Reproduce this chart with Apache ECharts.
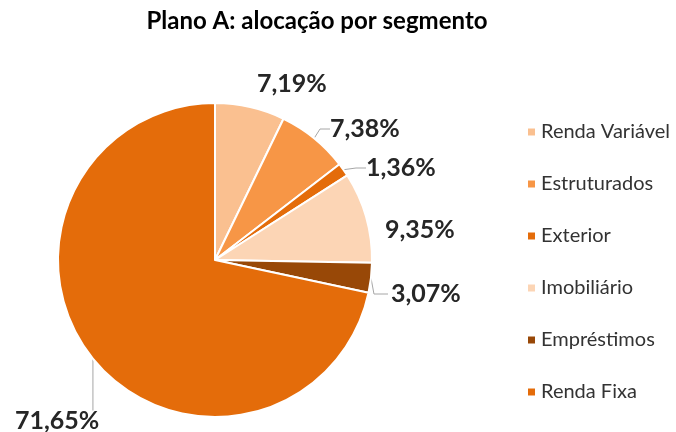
<!DOCTYPE html>
<html>
<head>
<meta charset="utf-8">
<script src="https://cdn.jsdelivr.net/npm/echarts@6/dist/echarts.min.js"></script>
<style>
  html, body { margin: 0; padding: 0; background: #fff; }
  #chart { width: 676px; height: 432px; }
</style>
</head>
<body>
<div id="chart"></div>
<script>
// dados do gráfico
var categorias = ['Renda Variável', 'Estruturados', 'Exterior', 'Imobiliário', 'Empréstimos', 'Renda Fixa'];
var valores = [7.19, 7.38, 1.36, 9.35, 3.07, 71.65];
var cores = ['#FAC090', '#F79646', '#E46C0A', '#FCD5B5', '#984807', '#E46C0A'];

// posição dos rótulos (esquerda, meio) e se têm linha guia
var posRotulos = [[257, 84], [330, 129], [366, 168], [385, 230], [391, 294], [15, 421]];
var semLinha = [true, false, false, true, false, false];

var chart = echarts.init(document.getElementById('chart'));

var option = {
    title: {
        text: 'Plano A: alocação por segmento',
        left: 312,
        top: 4,
        textAlign: 'center',
        textStyle: {
            fontFamily: 'Lato',
            fontSize: 24,
            fontWeight: 'bold',
            color: '#000'
        }
    },
    legend: {
        orient: 'vertical',
        left: 521,
        top: 117,
        itemWidth: 9,
        itemHeight: 9,
        itemGap: 32,
        icon: 'rect',
        textStyle: {
            fontFamily: 'Lato',
            fontSize: 20,
            lineHeight: 20,
            color: '#333'
        },
        data: categorias
    },
    series: [{
        type: 'pie',
        center: [215, 260],
        radius: 157,
        startAngle: 90,
        clockwise: true,
        avoidLabelOverlap: false,
        itemStyle: {
            borderColor: '#fff',
            borderWidth: 2
        },
        label: {
            show: true,
            position: 'outside',
            formatter: function (p) {
                return p.value.toFixed(2).replace('.', ',') + '%';
            },
            fontFamily: 'Lato',
            fontSize: 25,
            fontWeight: 'bold',
            color: '#262626'
        },
        labelLine: {
            show: true,
            length: 6,
            length2: 10,
            lineStyle: { color: '#A6A6A6', width: 1 }
        },
        labelLayout: function (p) {
            var pos = posRotulos[p.dataIndex];
            var out = { x: pos[0], y: pos[1], align: 'left', verticalAlign: 'middle' };
            var pts = p.labelLinePoints;
            if (pts && p.dataIndex === 5) {
                // linha vertical até o topo do rótulo
                var topo = pos[1] - p.labelRect.height / 2 + 2;
                out.labelLinePoints = [pts[0], [pts[0][0], topo]];
            } else if (pts && p.dataIndex === 4) {
                out.labelLinePoints = [pts[0], [pts[0][0] + 3, pos[1]], [pos[0] - 3, pos[1]]];
            }
            return out;
        },
        emphasis: { disabled: true },
        data: categorias.map(function (c, i) {
            return {
                name: c,
                value: valores[i],
                itemStyle: { color: cores[i] },
                labelLine: { show: !semLinha[i] }
            };
        })
    }]
};

chart.setOption(option);
</script>
</body>
</html>
